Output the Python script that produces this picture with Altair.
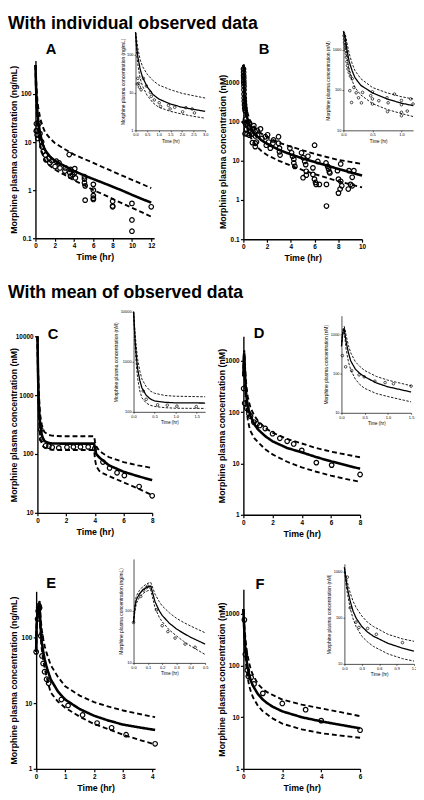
import altair as alt
import pandas as pd

FONT = "Liberation Sans"
MARGIN = 8            # browser page margin
W, H = 416, 790       # drawable frame

# ---------------- model curves: time grid, median, 5th pct, 95th pct ----------------
A_t = [0, 0.05, 0.1, 0.2, 0.3, 0.5, 0.75, 1, 1.5, 2, 2.5, 3, 4, 5, 6, 7, 8, 9, 10, 11, 12]
A_median = [400, 170, 90, 42, 26, 14.5, 9, 6.8, 5.0, 4.1, 3.6, 3.2, 2.5, 2.05, 1.7, 1.42, 1.18, 0.98, 0.8, 0.66, 0.55]
A_upper = [400, 260, 150, 75, 50, 31, 21, 16, 12, 9.6, 8.3, 7.2, 5.5, 4.5, 3.7, 3.0, 2.45, 2.0, 1.64, 1.35, 1.1]
A_lower = [400, 110, 55, 24, 15, 8.5, 5.4, 4.1, 3.2, 2.7, 2.35, 2.1, 1.6, 1.28, 1.0, 0.82, 0.66, 0.53, 0.43, 0.35, 0.28]

B_t = [0, 0.03, 0.06, 0.1, 0.15, 0.2, 0.3, 0.5, 0.75, 1, 1.2, 1.5, 2, 3, 4, 5, 6, 7, 8, 9, 10]
B_median = [2800, 2000, 1000, 500, 300, 200, 130, 85, 60, 47, 41, 34, 27, 19, 14.5, 11.5, 9.3, 7.6, 6.2, 5.1, 4.2]
B_upper = [2800, 2500, 1500, 800, 450, 300, 190, 115, 85, 68, 60, 50, 40, 29, 23, 18.5, 15, 12.5, 10.5, 9.4, 8.3]
B_lower = [2800, 1400, 650, 300, 170, 115, 75, 46, 33, 26, 22, 18, 14, 10, 7.5, 5.8, 4.6, 3.7, 3.0, 2.5, 2.1]

C_t = [0, 0.02, 0.04, 0.07, 0.1, 0.15, 0.2, 0.3, 0.4, 0.5, 0.75, 1, 1.7, 2, 3, 3.95, 4.02, 4.1, 4.3, 4.5, 5, 6, 7, 8]
C_median = [10000, 5000, 2500, 1200, 700, 420, 300, 215, 180, 165, 155, 151, 150, 150, 150, 150, 120, 100, 88, 80, 64, 50, 42, 36]
C_upper = [10000, 6000, 3500, 1800, 1100, 650, 450, 320, 260, 235, 212, 205, 200, 200, 200, 200, 160, 135, 115, 105, 88, 73, 64, 58]
C_lower = [10000, 4000, 1800, 800, 450, 260, 190, 150, 135, 128, 121, 118, 117, 117, 117, 117, 80, 62, 52, 48, 42, 33, 26, 20]

D_t = [0, 0.02, 0.04, 0.06, 0.08, 0.1, 0.15, 0.2, 0.3, 0.4, 0.5, 0.75, 1, 1.5, 2, 3, 4, 5, 6, 7, 8]
D_median = [500, 900, 1300, 1400, 950, 650, 340, 210, 130, 100, 83, 58, 46, 34, 27, 20, 16.5, 13.3, 11, 9.3, 7.9]
D_upper = [500, 1000, 1500, 1600, 1300, 950, 520, 340, 200, 150, 120, 85, 68, 49, 40, 30, 24.5, 20, 17, 15, 13.2]
D_lower = [500, 800, 1100, 1200, 700, 420, 200, 125, 72, 52, 42, 31, 26, 19, 15, 10.8, 8.4, 6.9, 5.8, 5.0, 4.4]

E_t = [0, 0.01, 0.02, 0.04, 0.06, 0.08, 0.1, 0.12, 0.13, 0.15, 0.18, 0.2, 0.25, 0.3, 0.35, 0.4, 0.5, 0.75, 1, 1.5, 2, 2.5, 3, 3.5, 4.1]
E_median = [60, 120, 165, 210, 245, 270, 290, 300, 240, 150, 100, 82, 58, 45, 37, 31, 23, 15, 11.3, 8.1, 6.4, 5.4, 4.7, 4.3, 3.9]
E_upper = [60, 140, 195, 245, 285, 315, 340, 355, 300, 210, 150, 125, 92, 72, 60, 51, 38, 25, 18, 13, 10.3, 8.8, 7.7, 6.9, 6.1]
E_lower = [60, 100, 140, 180, 210, 230, 245, 255, 195, 115, 75, 62, 43, 33, 26, 21, 14.5, 10.5, 8.5, 6.2, 4.8, 4.0, 3.3, 2.8, 2.35]

F_t = [0, 0.02, 0.05, 0.1, 0.15, 0.2, 0.3, 0.4, 0.5, 0.75, 1, 1.2, 1.5, 2, 3, 4, 5, 6]
F_median = [1250, 800, 450, 230, 140, 100, 65, 49, 40, 28, 22, 19, 16, 13, 10, 8.3, 7.1, 6.1]
F_upper = [1250, 900, 600, 350, 230, 170, 110, 80, 65, 44, 35, 31, 27, 22, 17.5, 14.8, 12.5, 10.5]
F_lower = [1250, 650, 350, 160, 95, 65, 40, 30, 24, 16.5, 13, 11.5, 9.5, 7.5, 5.8, 4.9, 4.4, 4.0]

# ---------------- observed data: [time (hr), concentration] ----------------
A_obs = [[0.08, 17], [0.1, 24], [0.14, 17.6], [0.17, 14], [0.24, 11.9], [0.34, 24], [0.47, 15],
         [0.64, 10.2], [0.68, 8.0], [0.81, 6.4], [1.02, 5.4], [1.08, 4.3], [1.42, 4.6], [1.49, 3.7],
         [1.69, 4.1], [2.03, 3.1], [2.17, 4.0], [2.44, 3.7], [2.54, 2.9], [3.05, 2.5], [3.1, 2.9],
         [3.5, 5.5], [3.56, 2.3], [3.63, 2.7], [3.63, 1.96], [3.86, 2.1], [4.07, 2.8], [4.07, 2.3],
         [4.14, 1.8], [5.08, 1.9], [5.08, 1.7], [5.08, 1.43], [5.15, 1.23], [5.15, 0.62], [6.0, 1.32],
         [6.0, 1.0], [6.0, 0.77], [6.0, 0.68], [6.0, 0.64], [8.0, 0.59], [8.0, 0.47], [8.0, 0.45],
         [10.0, 0.53], [10.0, 0.24], [10.0, 0.14], [12.0, 0.45]]
B_obs = [[0.01, 2200], [0.02, 1800], [0.02, 1500], [0.03, 1300], [0.03, 1100], [0.04, 950], [0.05, 800],
         [0.05, 650], [0.06, 500], [0.07, 400], [0.08, 330], [0.1, 270], [0.12, 220], [0.15, 190],
         [0.18, 115], [0.22, 85], [0.26, 64], [0.31, 48], [0.11, 96], [0.14, 49], [0.33, 87], [0.47, 72],
         [0.5, 90], [0.5, 60], [0.5, 45], [0.61, 54], [0.75, 64], [0.77, 48], [0.76, 29], [0.88, 79],
         [1.0, 55], [1.0, 43], [1.0, 28], [1.0, 23], [1.16, 60], [1.2, 45], [1.1, 30], [1.44, 65],
         [1.57, 37], [1.85, 41], [2.04, 46], [1.93, 25], [2.13, 30], [2.27, 21], [2.49, 28], [2.54, 34],
         [2.96, 41], [2.96, 28], [3.04, 21], [3.04, 17], [3.09, 14], [3.92, 21], [4.06, 16], [4.14, 13],
         [4.25, 11], [4.25, 8.8], [4.34, 7.2], [4.9, 16], [5.03, 12], [5.17, 9.6], [5.25, 8], [5.3, 5.4],
         [5.03, 3.7], [5.3, 4.3], [5.44, 13], [6.0, 25], [5.86, 6.6], [5.86, 4.5], [5.99, 3.4], [6.08, 2.8],
         [6.13, 2.5], [6.4, 2.5], [6.27, 9.6], [6.96, 8.8], [7.0, 2.5], [7.1, 7.2], [7.18, 6.2], [7.24, 5.2],
         [7.29, 4.9], [7.0, 0.7], [7.93, 5.6], [8.01, 3.4], [8.01, 1.5], [8.15, 1.9], [8.2, 3.0], [8.29, 2.3],
         [8.2, 8.3], [8.84, 1.9], [8.9, 5.6], [9.03, 2.5], [9.17, 2.3], [9.17, 3.8], [9.31, 5.6]]
C_obs = [[0.23, 261], [0.3, 178], [0.57, 138], [0.8, 136], [1.03, 130], [1.49, 127], [2.06, 130],
         [2.51, 132], [3.0, 132], [3.54, 132], [4.0, 124], [4.57, 73], [5.03, 58], [5.55, 48],
         [6.06, 43], [7.09, 28], [8.0, 19.5]]
D_obs = [[0.02, 288], [0.09, 149], [0.22, 119], [0.38, 93], [0.49, 83], [0.72, 64], [0.94, 59],
         [1.12, 55], [1.5, 48], [2.0, 38], [2.5, 31], [3.0, 27], [3.45, 24], [4.0, 18], [5.0, 10.4],
         [6.05, 9.3], [8.0, 6.1]]
E_obs = [[0.0, 60], [0.05, 190], [0.07, 250], [0.09, 280], [0.1, 300], [0.12, 280], [0.16, 105],
         [0.2, 52], [0.24, 40], [0.29, 30], [0.36, 23], [0.43, 20], [0.87, 11.3], [1.1, 9.2],
         [1.6, 6.6], [2.1, 4.96], [2.6, 4.2], [3.1, 3.3], [4.1, 2.4]]
F_obs = [[0.05, 770], [0.1, 165], [0.2, 81], [0.25, 62], [0.4, 59], [0.55, 44], [1.0, 29],
         [2.0, 18.5], [3.2, 14], [4.0, 8.6], [6.0, 5.6]]

# ---------------- tick values ----------------
A_xticks = [0, 2, 4, 6, 8, 10, 12]
B_xticks = [0, 2, 4, 6, 8, 10]
CD_xticks = [0, 2, 4, 6, 8]
E_xticks = [0, 1, 2, 3, 4]
F_xticks = [0, 2, 4, 6]
A_yticks = [0.1, 1, 10, 100]
B_yticks = [0.1, 1, 10, 100, 1000]
C_yticks = [10, 100, 1000, 10000]
DF_yticks = [1, 10, 100, 1000]
E_yticks = [1, 10, 100]
A_ixticks = [0, 0.5, 1.0, 1.5, 2.0, 2.5, 3.0]
B_ixticks = [0, 0.5, 1.0]
CD_ixticks = [0, 0.5, 1.0, 1.5]
E_ixticks = [0, 0.1, 0.2, 0.3, 0.4, 0.5]
F_ixticks = [0, 0.3, 0.6, 0.9, 1.2]
A_iyticks = [1, 10, 100]
BD_iyticks = [10, 100, 1000]
C_iyticks = [100, 1000, 10000]
E_iyticks = [10, 100]
F_iyticks = [10, 100, 1000]

SECTION_1 = "With individual observed data"
SECTION_2 = "With mean of observed data"
TITLE_NG = "Morphine plasma concentration (ng/mL)"
TITLE_NM = "Morphine plasma concentration (nM)"
X_TITLE = "Time (hr)"

# ---------------- panel layout (page pixel positions) ----------------
PANELS = {
    "A": dict(curves=(A_t, A_median, A_lower, A_upper), obs=A_obs, ytitle=TITLE_NG,
              xdom=[0, 12.3], ydom=[0.1, 500], xpx=(36, 157), ypx=(235, 53.7), ytitle_x=14,
              xticks=A_xticks, yticks=A_yticks,
              ixdom=[0, 3], iydom=[1, 400], ixpx=(138, 209), iypx=(125, 25),
              ixticks=A_ixticks, iyticks=A_iyticks, letter=(52, 47)),
    "B": dict(curves=(B_t, B_median, B_lower, B_upper), obs=B_obs, ytitle=TITLE_NM,
              xdom=[0, 10], ydom=[0.1, 3000], xpx=(248, 369), ypx=(236, 57), ytitle_x=227,
              xticks=B_xticks, yticks=B_yticks,
              ixdom=[0, 1.2], iydom=[10, 3000], ixpx=(350, 421), iypx=(125, 23),
              ixticks=B_ixticks, iyticks=BD_iyticks, letter=(269, 47)),
    "C": dict(curves=(C_t, C_median, C_lower, C_upper), obs=C_obs, ytitle=TITLE_NM,
              xdom=[0, 8], ydom=[10, 10000], xpx=(38, 155), ypx=(515, 335), ytitle_x=14,
              xticks=CD_xticks, yticks=C_yticks,
              ixdom=[0, 1.7], iydom=[100, 10000], ixpx=(136, 209), iypx=(412, 310),
              ixticks=CD_ixticks, iyticks=C_iyticks, letter=(54, 338)),
    "D": dict(curves=(D_t, D_median, D_lower, D_upper), obs=D_obs, ytitle=TITLE_NM,
              xdom=[0, 8], ydom=[1, 3000], xpx=(248, 367), ypx=(517, 335), ytitle_x=226,
              xticks=CD_xticks, yticks=DF_yticks,
              ixdom=[0, 1.5], iydom=[10, 3000], ixpx=(348, 419), iypx=(413, 314),
              ixticks=CD_ixticks, iyticks=BD_iyticks, letter=(264, 337)),
    "E": dict(curves=(E_t, E_median, E_lower, E_upper), obs=E_obs, ytitle=TITLE_NG,
              xdom=[0, 4.1], ydom=[1, 500], xpx=(36.7, 158), ypx=(776, 595), ytitle_x=14,
              xticks=E_xticks, yticks=E_yticks,
              ixdom=[0, 0.5], iydom=[10, 1000], ixpx=(136, 209), iypx=(668, 562),
              ixticks=E_ixticks, iyticks=E_iyticks, letter=(52, 592)),
    "F": dict(curves=(F_t, F_median, F_lower, F_upper), obs=F_obs, ytitle=TITLE_NM,
              xdom=[0, 6], ydom=[1, 3000], xpx=(248, 367), ypx=(776, 593), ytitle_x=226,
              xticks=F_xticks, yticks=DF_yticks,
              ixdom=[0, 1.2], iydom=[10, 1500], ixpx=(351, 422), iypx=(669, 567),
              ixticks=F_ixticks, iyticks=F_iyticks, letter=(265, 593)),
}

# ---------------- tables ----------------
curve_rows, obs_rows = [], []
for name, P in PANELS.items():
    t, med, lo, hi = P["curves"]
    for series, vals in (("median", med), ("lower", lo), ("upper", hi)):
        assert len(vals) == len(t), (name, series)
        curve_rows += [{"panel": name, "series": series, "t": a, "v": b} for a, b in zip(t, vals)]
    obs_rows += [{"panel": name, "t": a, "v": b} for a, b in P["obs"]]
curves_df = pd.DataFrame(curve_rows)
obs_df = pd.DataFrame(obs_rows)


def xscale(dom, px):
    return alt.Scale(domain=dom, range=[px[0] - MARGIN, px[1] - MARGIN], zero=False, nice=False, clamp=True)


def yscale(dom, px):
    return alt.Scale(type="log", domain=dom, range=[px[0] - MARGIN, px[1] - MARGIN], nice=False, clamp=True)


def x_axis(ybottom_px, values, fmt, big):
    return alt.Axis(orient="bottom", offset=(ybottom_px - MARGIN) - H, values=values, format=fmt,
                    title=X_TITLE, grid=False, labelFlush=False, labelOverlap=False,
                    tickSize=3 if big else 1.5, tickWidth=1.2 if big else 0.6,
                    domainWidth=1.4 if big else 0.7, labelPadding=1.5 if big else 1,
                    labelFontSize=6.5 if big else 4, labelFontWeight="bold" if big else "normal",
                    titleFontSize=9 if big else 4.5, titleFontWeight="bold" if big else "normal",
                    titlePadding=4 if big else 1.5)


def y_axis(xleft_px, values, title, big, title_x=None):
    extra = {}
    if title_x is not None:
        # bottom edge of the rotated title, relative to the axis line
        extra["titleX"] = (title_x + 4.5) - xleft_px
    return alt.Axis(orient="left", offset=-(xleft_px - MARGIN), values=values, format="~g",
                    title=title, grid=False, labelOverlap=False, labelFlush=False,
                    tickSize=3 if big else 1.5, tickWidth=1.2 if big else 0.6,
                    domainWidth=1.4 if big else 0.7, labelPadding=1.5 if big else 1,
                    labelFontSize=6.5 if big else 4, labelFontWeight="bold" if big else "normal",
                    titleFontSize=9 if big else 5, titleFontWeight="bold" if big else "normal",
                    titlePadding=2 if big else 1.5, **extra)


is_median = alt.datum.series == "median"
layers = []
for name, P in PANELS.items():
    # ---- main plot ----
    xs, ys = xscale(P["xdom"], P["xpx"]), yscale(P["ydom"], P["ypx"])
    layers.append(
        alt.Chart(curves_df).transform_filter(alt.datum.panel == name)
        .mark_line(color="black", strokeCap="butt")
        .encode(x=alt.X("t:Q", scale=xs, axis=x_axis(P["ypx"][0], P["xticks"], "d", True)),
                y=alt.Y("v:Q", scale=ys,
                        axis=y_axis(P["xpx"][0], P["yticks"], P["ytitle"], True, P["ytitle_x"])),
                detail="series:N",
                strokeDash=alt.condition(is_median, alt.value([1, 0]), alt.value([5, 3])),
                strokeWidth=alt.condition(is_median, alt.value(2.6), alt.value(1.9)))
    )
    layers.append(
        alt.Chart(obs_df).transform_filter(alt.datum.panel == name)
        .mark_point(shape="circle", filled=False, color="black", strokeWidth=1.2, size=22, opacity=1)
        .encode(x=alt.X("t:Q", scale=xs, axis=None), y=alt.Y("v:Q", scale=ys, axis=None))
    )
    # ---- inset ----
    ixs, iys = xscale(P["ixdom"], P["ixpx"]), yscale(P["iydom"], P["iypx"])
    tmax = P["ixdom"][1]
    layers.append(
        alt.Chart(curves_df).transform_filter((alt.datum.panel == name) & (alt.datum.t <= tmax))
        .mark_line(color="black", strokeCap="butt")
        .encode(x=alt.X("t:Q", scale=ixs, axis=x_axis(P["iypx"][0], P["ixticks"], ".1f", False)),
                y=alt.Y("v:Q", scale=iys, axis=y_axis(P["ixpx"][0], P["iyticks"], P["ytitle"], False)),
                detail="series:N",
                strokeDash=alt.condition(is_median, alt.value([1, 0]), alt.value([2.5, 1.5])),
                strokeWidth=alt.condition(is_median, alt.value(1.3), alt.value(0.9)))
    )
    layers.append(
        alt.Chart(obs_df).transform_filter((alt.datum.panel == name) & (alt.datum.t <= tmax))
        .mark_point(shape="circle", filled=False, color="black", strokeWidth=0.7, size=7, opacity=1)
        .encode(x=alt.X("t:Q", scale=ixs, axis=None), y=alt.Y("v:Q", scale=iys, axis=None))
    )
    # ---- panel letter ----
    lx, ly = P["letter"]
    layers.append(
        alt.Chart(pd.DataFrame({"s": [name]}))
        .mark_text(font=FONT, fontSize=15, fontWeight="bold", align="center", baseline="alphabetic", color="black")
        .encode(text="s:N", x=alt.value(lx - MARGIN), y=alt.value(ly - MARGIN))
    )

for text, base in ((SECTION_1, 22), (SECTION_2, 296)):
    layers.append(
        alt.Chart(pd.DataFrame({"s": [text]}))
        .mark_text(font=FONT, fontSize=18, fontWeight="bold", align="left", baseline="alphabetic", color="black")
        .encode(text="s:N", x=alt.value(0), y=alt.value(base - MARGIN))
    )

chart = (
    alt.layer(*layers)
    .resolve_scale(x="independent", y="independent")
    .properties(width=W, height=H, autosize=alt.AutoSizeParams(type="none"), padding=0)
    .configure_view(stroke="transparent")
    .configure_axis(domainColor="black", tickColor="black", labelColor="black", titleColor="black",
                    labelFont=FONT, titleFont=FONT)
)

chart.save("out.html", embed_options={"renderer": "svg", "actions": False})
